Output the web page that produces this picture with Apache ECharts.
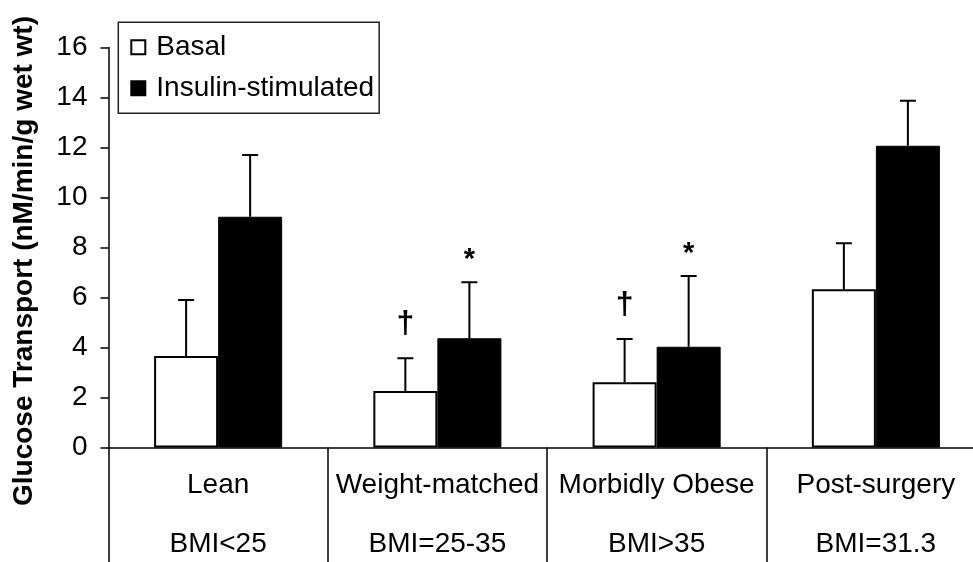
<!DOCTYPE html>
<html>
<head>
<meta charset="utf-8">
<script src="https://cdn.jsdelivr.net/npm/echarts@6/dist/echarts.min.js"></script>
<style>
  html, body { margin: 0; padding: 0; background: #fff; }
  #chart { width: 973px; height: 562px; }
</style>
</head>
<body>
<div id="chart"></div>
<script>
// Groups and their BMI ranges
const categories = ['Lean', 'Weight-matched', 'Morbidly Obese', 'Post-surgery'];
const bmiLabels = ['BMI<25', 'BMI=25-35', 'BMI>35', 'BMI=31.3'];

// Glucose transport (nM/min/g wet wt), mean and upper SE
const basal = [3.66, 2.26, 2.61, 6.33];
const basalErr = [2.24, 1.31, 1.73, 1.84];
const insulin = [9.23, 4.37, 4.03, 12.07];
const insulinErr = [2.47, 2.24, 2.83, 1.80];

// Significance markers drawn above each error bar
const basalMarks = ['', '\u2020', '\u2020', ''];
const insulinMarks = ['', '*', '*', ''];

const yTicks = [0, 2, 4, 6, 8, 10, 12, 14, 16];

const FONT = 'Liberation Sans, Arial, sans-serif';
const FS = 28;
const BAR_FRACTION = 0.292; // each bar's share of a category band

function errorSeries(name, values, errs, marks, side, markLift, markSize) {
  return {
    type: 'custom',
    name: name + ' error',
    z: 5,
    data: values.map((v, i) => [i, v, errs[i]]),
    encode: { x: 0, y: 1 },
    renderItem: function (params, api) {
      const i = api.value(0);
      const v = api.value(1);
      const e = api.value(2);
      const mark = marks[params.dataIndex];
      const band = api.size([1, 0])[0];
      const base = api.coord([i, v]);
      const top = api.coord([i, v + e]);
      const x = base[0] + side * band * BAR_FRACTION / 2;
      const half = 8;
      const children = [
        { type: 'line', shape: { x1: x, y1: base[1], x2: x, y2: top[1] },
          style: { stroke: '#000', lineWidth: 2 } },
        { type: 'line', shape: { x1: x - half, y1: top[1], x2: x + half, y2: top[1] },
          style: { stroke: '#000', lineWidth: 2 } }
      ];
      if (mark) {
        children.push({
          type: 'text',
          style: {
            text: mark, x: x, y: top[1] - markLift,
            align: 'center', verticalAlign: 'middle',
            font: 'bold ' + markSize + 'px ' + FONT, fill: '#000'
          }
        });
      }
      return { type: 'group', children: children };
    }
  };
}

const chart = echarts.init(document.getElementById('chart'));
chart.setOption({
  animation: false,
  backgroundColor: '#fff',
  textStyle: { fontFamily: FONT, color: '#000' },
  grid: { left: 108.5, top: 47.5, width: 877, height: 400, outerBoundsMode: 'none', containLabel: false },
  legend: {
    data: ['Basal', 'Insulin-stimulated'],
    orient: 'vertical',
    left: 118.3,
    top: 22.3,
    padding: [10, 5, 10, 12],
    itemGap: 11,
    itemWidth: 14,
    itemHeight: 14,
    icon: 'rect',
    borderColor: '#222',
    borderWidth: 1.5,
    borderRadius: 0,
    textStyle: { fontSize: FS, color: '#000', fontFamily: FONT, lineHeight: 30, padding: [0, 0, 0, 6] }
  },
  xAxis: {
    type: 'category',
    data: categories,
    boundaryGap: true,
    axisLine: { lineStyle: { color: '#000', width: 1.5 } },
    axisTick: { show: true, interval: 0, alignWithLabel: false, length: 120, lineStyle: { color: '#000', width: 1.5 } },
    axisLabel: {
      interval: 0,
      margin: 23,
      fontSize: FS,
      lineHeight: 29.5,
      color: '#000',
      fontFamily: FONT,
      formatter: function (value, idx) { return value + '\n\n' + bmiLabels[idx]; }
    },
    splitLine: { show: false }
  },
  yAxis: {
    type: 'value',
    min: yTicks[0],
    max: yTicks[yTicks.length - 1],
    interval: 2,
    name: 'Glucose Transport (nM/min/g wet wt)',
    nameLocation: 'middle',
    nameGap: 70,
    nameTextStyle: { fontSize: FS, fontWeight: 'bold', color: '#000', fontFamily: FONT, padding: [0, 27, 0, 0] },
    axisLine: { show: true, lineStyle: { color: '#000', width: 1.5 } },
    axisTick: { show: true, length: 8, lineStyle: { color: '#000', width: 1.5 } },
    axisLabel: { margin: 21, fontSize: FS, color: '#000', fontFamily: FONT },
    splitLine: { show: false }
  },
  series: [
    {
      type: 'bar',
      name: 'Basal',
      data: basal,
      barWidth: (BAR_FRACTION * 100) + '%',
      barGap: '0%',
      itemStyle: { color: '#fff', borderColor: '#000', borderWidth: 2 }
    },
    {
      type: 'bar',
      name: 'Insulin-stimulated',
      data: insulin,
      barWidth: (BAR_FRACTION * 100) + '%',
      barGap: '0%',
      itemStyle: { color: '#000', borderColor: '#000', borderWidth: 1 }
    },
    errorSeries('Basal', basal, basalErr, basalMarks, -1, 34, 32),
    errorSeries('Insulin-stimulated', insulin, insulinErr, insulinMarks, 1, 22, 29)
  ]
});
</script>
</body>
</html>
